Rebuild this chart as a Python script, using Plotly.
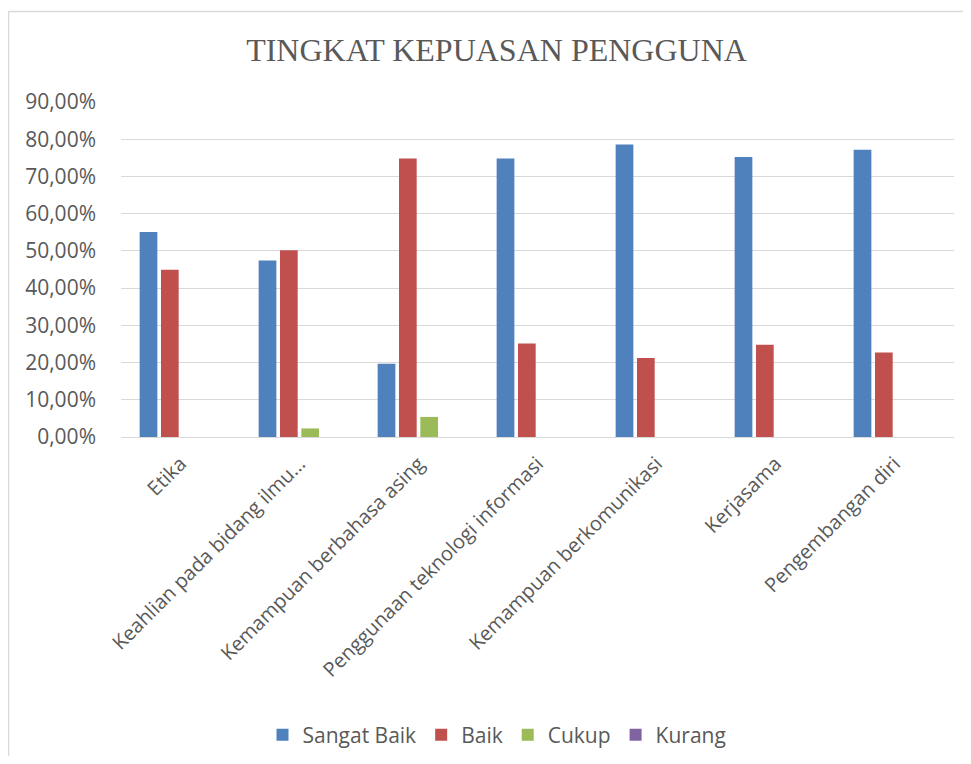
import plotly.graph_objects as go

categories = [
    "Etika",
    "Keahlian pada bidang ilmu…",
    "Kemampuan berbahasa asing",
    "Penggunaan teknologi informasi",
    "Kemampuan berkomunikasi",
    "Kerjasama",
    "Pengembangan diri",
]
sangat_baik = [0.551, 0.474, 0.197, 0.748, 0.786, 0.752, 0.772]
baik = [0.449, 0.502, 0.748, 0.251, 0.212, 0.248, 0.227]
cukup = [0.0, 0.023, 0.054, 0.0, 0.0, 0.0, 0.0]
kurang = [0.0, 0.0, 0.0, 0.0, 0.0, 0.0, 0.0]

series = [
    ("Sangat Baik", sangat_baik, "#4F81BD"),
    ("Baik", baik, "#C0504D"),
    ("Cukup", cukup, "#9BBB59"),
    ("Kurang", kurang, "#8064A2"),
]

# page has an 8px body margin; figure coordinates = page coordinates - 8
OFF = 8
W, H = 955, 748
L = 121 - OFF
T = 102 - OFF
R = W - (954 - OFF)
B = H - (437 - OFF)
pw = W - L - R
ph = H - T - B

fig = go.Figure()
for name, vals, col in series:
    fig.add_trace(go.Bar(
        x=categories, y=vals, name=name,
        marker=dict(color=col, line=dict(width=0)),
    ))

text_col = "#595959"
grid_col = "#D9D9D9"

def px_x(x):
    return (x - OFF - L) / pw

def px_y(y):
    return (H - B - (y - OFF)) / ph

border = dict(color=grid_col, width=1.5)

fig.update_layout(
    width=W, height=H,
    margin=dict(l=L, r=R, t=T, b=B, autoexpand=False),
    paper_bgcolor="white", plot_bgcolor="white",
    barmode="group", bargap=0.283, bargroupgap=0.17,
    separators=",.",
    font=dict(family="Open Sans", size=21, color=text_col),
    title=dict(
        text="TINGKAT KEPUASAN PENGGUNA",
        font=dict(family="Liberation Serif", size=32, color=text_col),
        x=(496.5 - OFF) / W, xanchor="center", xref="container",
        y=1 - (50 - OFF) / H, yanchor="middle", yref="container",
    ),
    legend=dict(
        orientation="h", x=px_x(497), xanchor="center",
        y=px_y(735), yanchor="middle",
        font=dict(family="Open Sans", size=21, color=text_col),
        itemwidth=30, tracegroupgap=0, traceorder="normal",
    ),
    showlegend=True,
    shapes=[
        dict(type="line", xref="paper", yref="paper",
             x0=px_x(8.5), x1=px_x(8.5), y0=px_y(764), y1=px_y(11.5),
             line=border, layer="below"),
        dict(type="line", xref="paper", yref="paper",
             x0=px_x(8.5), x1=px_x(963), y0=px_y(11.5), y1=px_y(11.5),
             line=border, layer="below"),
    ],
)

fig.update_yaxes(
    range=[0, 0.9], dtick=0.1, tickformat=".2%",
    showgrid=True, gridcolor=grid_col, gridwidth=1.3,
    zeroline=False, showline=False, ticks="",
    ticklabelstandoff=24, automargin=False,
    tickfont=dict(family="Open Sans", size=21, color=text_col),
)
fig.update_xaxes(
    tickangle=-45, showline=True, linecolor=grid_col, linewidth=1.3,
    ticks="", showgrid=False,
    ticklabelstandoff=6, automargin=False,
    tickfont=dict(family="Open Sans", size=20, color=text_col),
)

fig.write_html("out.html")
